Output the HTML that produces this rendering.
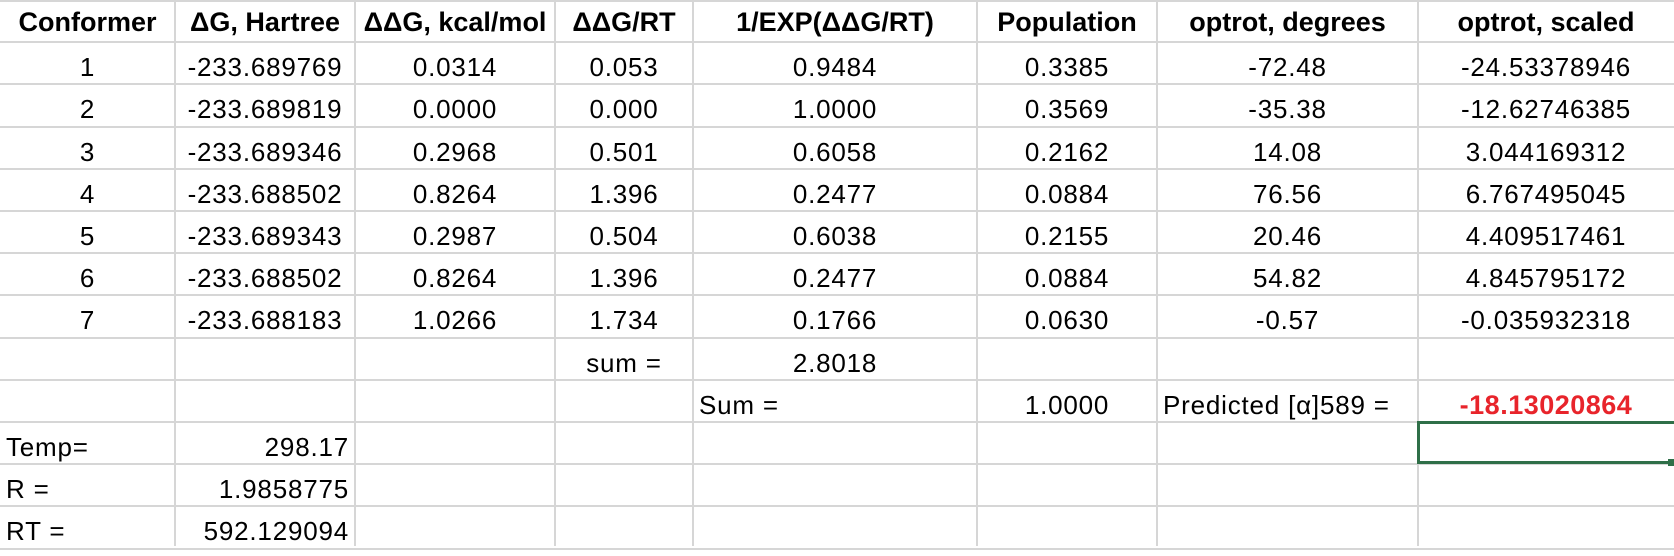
<!DOCTYPE html>
<html><head><meta charset="utf-8"><style>
html,body{margin:0;padding:0;background:#fff;width:1674px;height:546px;overflow:hidden}
.g{position:absolute;background:#d6d6d6}
.c{position:absolute;height:42px;line-height:50px;font-family:"Liberation Sans",Arial,sans-serif;font-size:26px;letter-spacing:0.8px;color:#000;white-space:nowrap;overflow:visible}
.b{font-weight:bold;font-size:27px;letter-spacing:0px}
.ctr{text-align:center}.r{text-align:right}.l{text-align:left}
</style></head><body>
<div id="wrap"></div>
<script>
var X=[0,175,355,555,693,977,1157,1418,1674];
var H=42.2;
var html='';
for(var i=1;i<X.length-1;i++)html+='<div class="g" style="left:'+(X[i]-1)+'px;top:0;width:2px;height:546px"></div>';
for(var k=0;k<=13;k++){var y=Math.round(k*H);html+='<div class="g" style="left:0;top:'+(k==0?0:y-1)+'px;width:1674px;height:2px"></div>';}
function cell(r,c,t,cls,extra){var y=r*H;var x=X[c],w=X[c+1]-X[c];
 var pad='';
 if(/\bl\b/.test(cls))pad='padding-left:6px;';
 if(/\br\b/.test(cls))pad='padding-right:6px;';
 html+='<div class="c '+cls+'" style="left:'+x+'px;top:'+y+'px;width:'+(w-(pad?6:0))+'px;'+pad+(extra||'')+'">'+t+'</div>';}
var hdr=['Conformer','&Delta;G, Hartree','&Delta;&Delta;G, kcal/mol','&Delta;&Delta;G/RT','1/EXP(&Delta;&Delta;G/RT)','Population','optrot, degrees','optrot, scaled'];
hdr.forEach(function(t,i){cell(0,i,t,'b ctr','line-height:44px;');});
var d=[
['1','-233.689769','0.0314','0.053','0.9484','0.3385','-72.48','-24.53378946'],
['2','-233.689819','0.0000','0.000','1.0000','0.3569','-35.38','-12.62746385'],
['3','-233.689346','0.2968','0.501','0.6058','0.2162','14.08','3.044169312'],
['4','-233.688502','0.8264','1.396','0.2477','0.0884','76.56','6.767495045'],
['5','-233.689343','0.2987','0.504','0.6038','0.2155','20.46','4.409517461'],
['6','-233.688502','0.8264','1.396','0.2477','0.0884','54.82','4.845795172'],
['7','-233.688183','1.0266','1.734','0.1766','0.0630','-0.57','-0.035932318']];
d.forEach(function(row,r){row.forEach(function(t,i){cell(r+1,i,t,'ctr');});});
cell(8,3,'sum =','ctr');cell(8,4,'2.8018','ctr');
cell(9,4,'Sum =','l');cell(9,5,'1.0000','ctr');cell(9,6,'Predicted [&alpha;]589 =','l');
cell(9,7,'-18.13020864','b ctr','color:#e8242b;line-height:50px;letter-spacing:0.5px;');
cell(10,0,'Temp=','l');cell(10,1,'298.17','r');
cell(11,0,'R =','l');cell(11,1,'1.9858775','r');
cell(12,0,'RT =','l');cell(12,1,'592.129094','r');
html+='<div style="position:absolute;left:1417px;top:421px;width:257px;height:43px;box-sizing:border-box;border:3px solid #2f6f48;border-right:none"></div>';
html+='<div style="position:absolute;left:1668px;top:459px;width:6px;height:7px;background:#2f6f48"></div>';
document.getElementById('wrap').innerHTML=html;
</script>
</body></html>
